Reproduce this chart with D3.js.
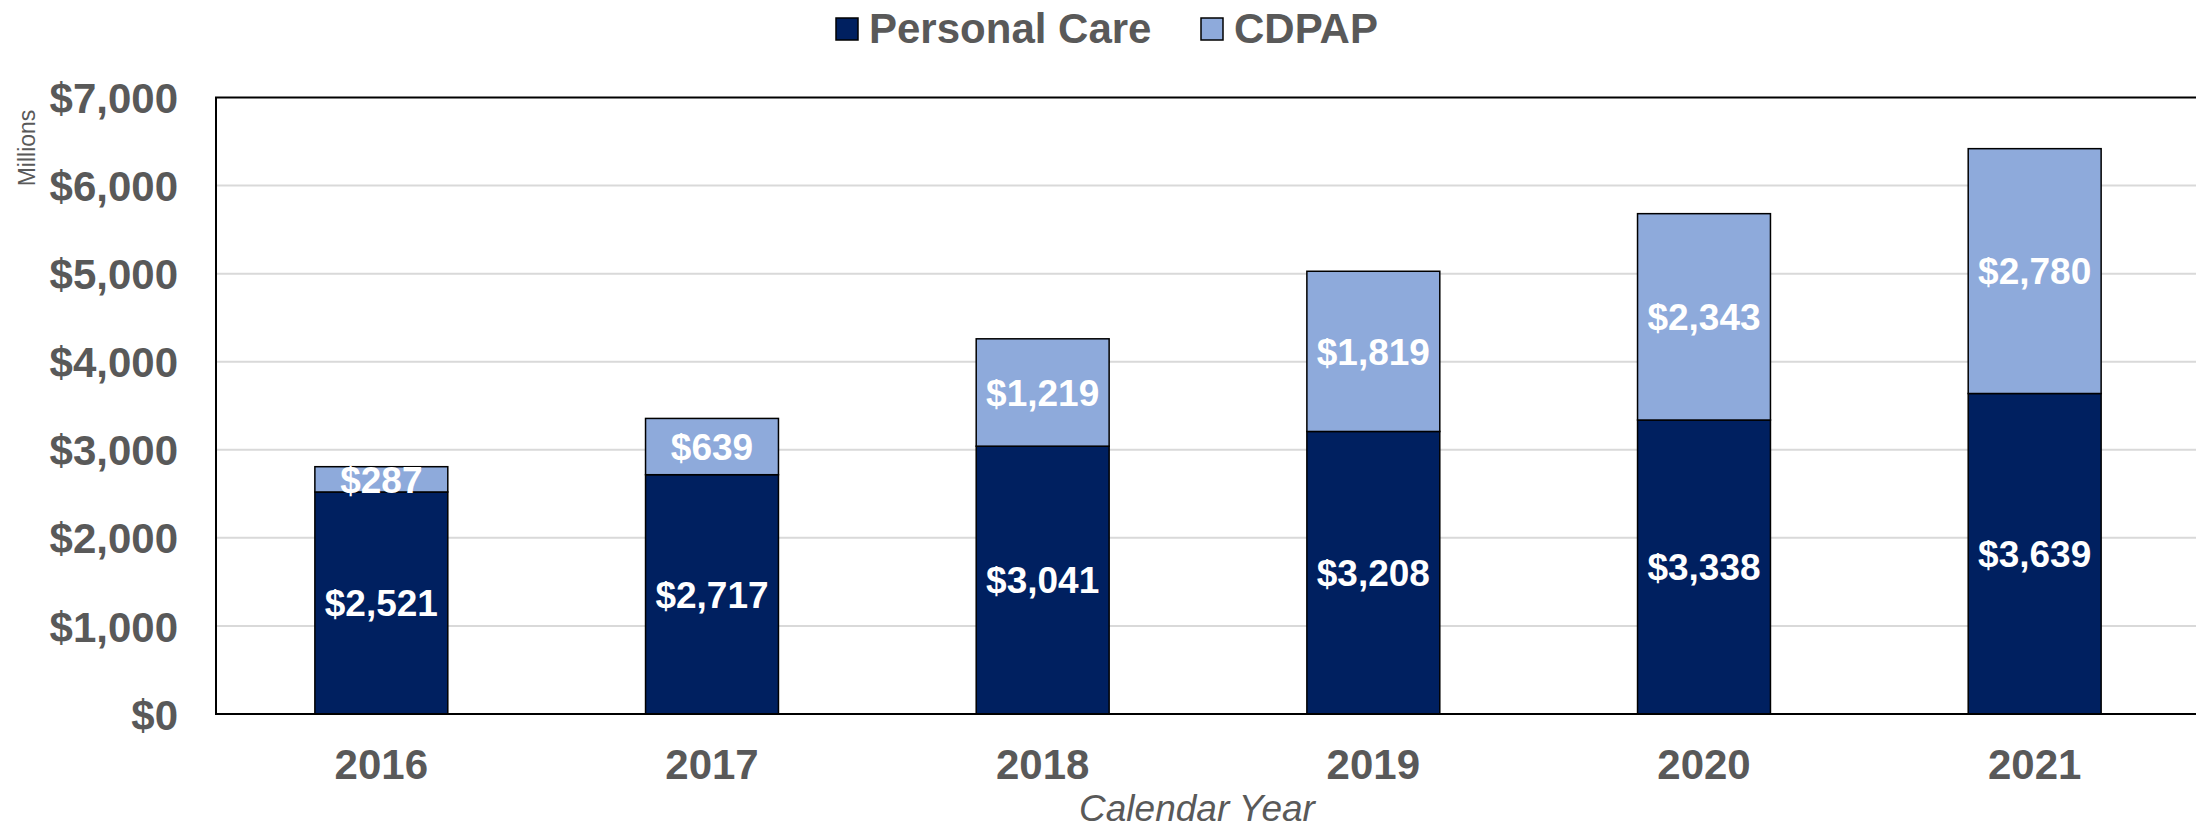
<!DOCTYPE html>
<meta charset="utf-8">
<style>
body { margin: 0; background: #fff; }
text { font-family: "Liberation Sans", Arial, sans-serif; }
.grid line { stroke: #d9d9d9; stroke-width: 2px; }
.axis path, .axis line { display: none; }
.axis text { fill: #595959; font-weight: bold; font-size: 42px; }
</style>
<svg width="2196" height="829"></svg>
<script src="https://d3js.org/d3.v7.min.js"></script>
<script>
var years = ["2016", "2017", "2018", "2019", "2020", "2021"];
var personalCare = [2521, 2717, 3041, 3208, 3338, 3639];
var cdpap = [287, 639, 1219, 1819, 2343, 2780];
var yTicks = [0, 1000, 2000, 3000, 4000, 5000, 6000, 7000];
var seriesNames = ["Personal Care", "CDPAP"];
var colors = ["#002060", "#8eaadb"];

var svg = d3.select("svg"),
    margin = {top: 97.5, left: 216},
    width = 1984,
    height = 616.5,
    g = svg.append("g").attr("transform", "translate(" + margin.left + "," + margin.top + ")");

var rows = years.map(function(y, i) {
  return {year: y, "Personal Care": personalCare[i], "CDPAP": cdpap[i]};
});
var stacked = d3.stack().keys(seriesNames)(rows);

var x = d3.scaleBand().domain(years).range([0, width]).paddingInner(0.598).paddingOuter(0.299);
var y = d3.scaleLinear().domain([0, 7000]).range([height, 0]);
var fmt = function(v) { return "$" + d3.format(",")(v); };

// gridlines
g.append("g").attr("class", "grid")
  .selectAll("line").data(yTicks.slice(1, -1)).enter().append("line")
    .attr("x1", 0).attr("x2", width)
    .attr("y1", function(d) { return y(d); })
    .attr("y2", function(d) { return y(d); });

// bars
var layer = g.selectAll(".layer").data(stacked).enter().append("g")
    .attr("fill", function(d, i) { return colors[i]; });
layer.selectAll("rect").data(function(d) { return d; }).enter().append("rect")
    .attr("x", function(d) { return x(d.data.year); })
    .attr("width", x.bandwidth())
    .attr("y", function(d) { return y(d[1]); })
    .attr("height", function(d) { return y(d[0]) - y(d[1]); })
    .attr("stroke", "#000")
    .attr("stroke-width", 1.5);

// value labels
layer.selectAll("text").data(function(d) { return d; }).enter().append("text")
    .attr("x", function(d) { return x(d.data.year) + x.bandwidth() / 2; })
    .attr("y", function(d) { return (y(d[0]) + y(d[1])) / 2; })
    .attr("dy", "0.36em")
    .attr("text-anchor", "middle")
    .attr("fill", "#fff")
    .style("font-weight", "bold")
    .style("font-size", "37px")
    .text(function(d) { return fmt(d[1] - d[0]); });

// plot border
g.append("rect")
    .attr("width", width).attr("height", height)
    .attr("fill", "none").attr("stroke", "#000").attr("stroke-width", 2);

// axes
g.append("g").attr("class", "axis")
    .call(d3.axisLeft(y).tickValues(yTicks).tickFormat(fmt).tickSize(0).tickPadding(38))
    .selectAll("text").attr("dy", "0.36em");
g.append("g").attr("class", "axis")
    .attr("transform", "translate(0," + height + ")")
    .call(d3.axisBottom(x).tickSize(0).tickPadding(35));

svg.append("text")
    .attr("x", 1197).attr("y", 821)
    .attr("text-anchor", "middle")
    .attr("fill", "#595959")
    .style("font-style", "italic")
    .style("font-size", "37px")
    .text("Calendar Year");

svg.append("text")
    .attr("transform", "translate(35,148) rotate(-90)")
    .attr("text-anchor", "middle")
    .attr("fill", "#595959")
    .style("font-size", "23px")
    .text("Millions");

// legend
var legendX = [836, 1201];
var legend = svg.selectAll(".legend").data(seriesNames).enter().append("g")
    .attr("transform", function(d, i) { return "translate(" + legendX[i] + ",0)"; });
legend.append("rect")
    .attr("x", 0).attr("y", 18).attr("width", 22).attr("height", 22)
    .attr("fill", function(d, i) { return colors[i]; })
    .attr("stroke", "#000").attr("stroke-width", 1.5);
legend.append("text")
    .attr("x", 33).attr("y", 43)
    .attr("fill", "#595959")
    .style("font-weight", "bold")
    .style("font-size", "42px")
    .text(function(d) { return d; });
</script>
